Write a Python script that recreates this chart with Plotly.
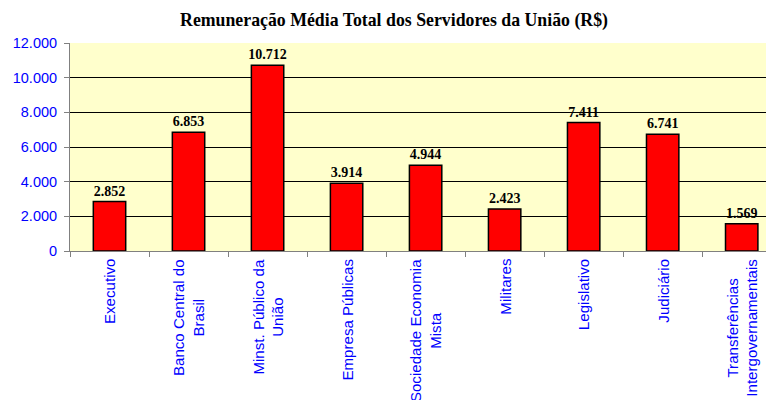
import plotly.graph_objects as go

categories = [
    "Executivo",
    "Banco Central do<br>Brasil",
    "Minst. Público da<br>União",
    "Empresa Públicas",
    "Sociedade Economia<br>Mista",
    "Militares",
    "Legislativo",
    "Judiciário",
    "Transferências<br>Intergovernamentais",
]
values = [2852, 6853, 10712, 3914, 4944, 2423, 7411, 6741, 1569]
y_ticks = [0, 2000, 4000, 6000, 8000, 10000, 12000]
title_text = "Remuneração Média Total dos Servidores da União (R$)"

# the page places the figure 8px in from the window's top-left corner
OFF = 8
W, H = 774, 400

fig = go.Figure()
fig.add_trace(go.Bar(
    x=categories,
    y=values,
    marker=dict(color="#FF0000", line=dict(color="#000000", width=1.5)),
    width=0.41,
    texttemplate="%{y:,.0f}",
    textposition="outside",
    constraintext="none",
    textfont=dict(family="Liberation Serif", size=14, color="#000000", weight="bold"),
    cliponaxis=False,
))

for cat in categories:
    fig.add_annotation(
        x=cat, xref="x", y=0, yref="paper",
        text=cat, textangle=-90, showarrow=False,
        xanchor="center", yanchor="top", align="center",
        yshift=-6,
        font=dict(family="Liberation Sans", size=15.1, color="#0000FF"),
    )

fig.update_layout(
    width=W, height=H,
    margin=dict(l=70 - OFF, r=0, t=43 - OFF, b=H - (251 - OFF)),
    paper_bgcolor="white",
    plot_bgcolor="#FFFFCC",
    separators=",.",
    showlegend=False,
    title=dict(text="<b>" + title_text + "</b>", x=(394 - OFF) / W, xanchor="center",
               y=1 - (20 - OFF) / H, yanchor="middle",
               font=dict(family="Liberation Serif", size=17.8, color="#000000")),
    font=dict(family="Liberation Sans"),
)
fig.update_xaxes(
    range=[-0.5, 8.51],
    automargin=False,
    showticklabels=False,
    tickson="boundaries",
    ticks="outside", ticklen=5, tickcolor="#808080",
    showline=True, linecolor="#808080", linewidth=1,
    showgrid=False,
)
fig.update_yaxes(
    range=[0, 12000],
    automargin=False,
    tickvals=y_ticks,
    tickformat=",.0f",
    ticks="outside", ticklen=5, tickcolor="#808080",
    showline=True, linecolor="#808080", linewidth=1,
    showgrid=True, gridcolor="#000000", gridwidth=1,
    tickfont=dict(family="Liberation Sans", size=14.5, color="#0000FF"),
    ticklabelstandoff=4,
    zeroline=False,
)

fig.write_html("out.html")
